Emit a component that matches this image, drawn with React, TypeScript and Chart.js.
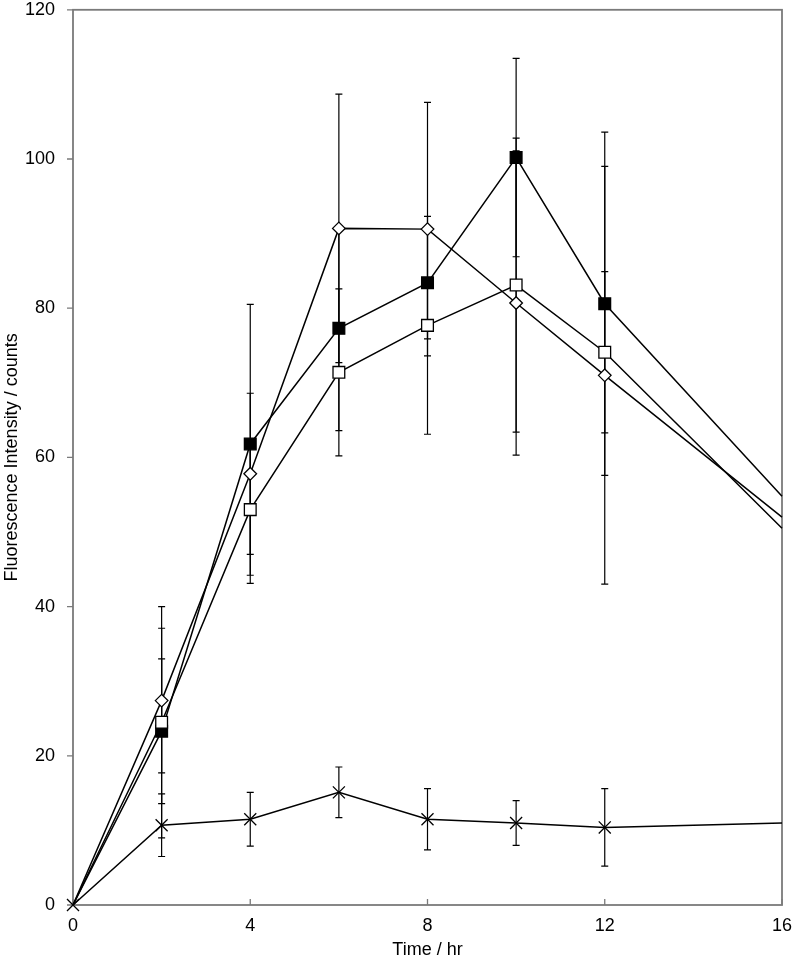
import React, { useEffect, useRef } from "react";
import { Chart, registerables } from "chart.js";

Chart.register(...registerables);

// Time points (hr)
const times = [0, 2, 4, 6, 8, 10, 12, 16];
const xTicks = [0, 4, 8, 12, 16];
const yTicks = [0, 20, 40, 60, 80, 100, 120];

// Series values (fluorescence counts) and error bars (±)
const diamondVals = [0, 27.4, 57.8, 90.7, 90.6, 80.7, 71.0, 52.0];
const diamondErr = [0, 9.7, 10.8, 18.0, 17.0, 20.4, 28.0, 0];

const openSquareVals = [0, 24.5, 53.0, 71.4, 77.7, 83.1, 74.1, 50.5];
const openSquareErr = [0, 15.5, 8.8, 11.2, 14.6, 19.7, 10.8, 0];

const filledSquareVals = [0, 23.3, 61.8, 77.3, 83.4, 100.2, 80.6, 54.8];
const filledSquareErr = [0, 9.7, 18.7, 13.7, 7.5, 13.3, 23.0, 0];

const crossVals = [0, 10.7, 11.5, 15.1, 11.5, 11.0, 10.4, 11.0];
const crossErr = [0, 4.2, 3.6, 3.4, 4.1, 3.0, 5.2, 0];

const FONT = "'Liberation Sans', Arial, Helvetica, sans-serif";
const AXIS_COLOR = "#7a7a7a";

const errorBarPlugin = {
  id: "errorBars",
  beforeDatasetsDraw(chart: any) {
    const { ctx, scales } = chart;
    const xs = scales.x;
    const ys = scales.y;
    ctx.save();
    ctx.strokeStyle = "#000";
    ctx.lineWidth = 1.2;
    chart.data.datasets.forEach((ds: any) => {
      const errs: number[] = ds.errors || [];
      ds.data.forEach((pt: any, i: number) => {
        const e = errs[i];
        if (!e) return;
        const x = xs.getPixelForValue(pt.x);
        const yTop = ys.getPixelForValue(pt.y + e);
        const yBot = ys.getPixelForValue(pt.y - e);
        ctx.beginPath();
        ctx.moveTo(x, yTop);
        ctx.lineTo(x, yBot);
        ctx.moveTo(x - 3.5, yTop);
        ctx.lineTo(x + 3.5, yTop);
        ctx.moveTo(x - 3.5, yBot);
        ctx.lineTo(x + 3.5, yBot);
        ctx.stroke();
      });
    });
    ctx.restore();
  },
};

const framePlugin = {
  id: "frame",
  beforeDatasetsDraw(chart: any) {
    const { ctx, chartArea, scales } = chart;
    const { left, right, top, bottom } = chartArea;
    ctx.save();
    ctx.strokeStyle = AXIS_COLOR;
    ctx.lineWidth = 1.8;
    ctx.strokeRect(left, top, right - left, bottom - top);
    ctx.lineWidth = 1.3;
    ctx.beginPath();
    xTicks.forEach((v) => {
      const x = scales.x.getPixelForValue(v);
      ctx.moveTo(x, bottom);
      ctx.lineTo(x, bottom - 6);
    });
    yTicks.forEach((v) => {
      const y = scales.y.getPixelForValue(v);
      ctx.moveTo(left, y);
      ctx.lineTo(left - 6, y);
    });
    ctx.stroke();
    ctx.restore();
  },
};

function mkPoints(vals: number[]) {
  return times.map((t, i) => ({ x: t, y: vals[i] }));
}

function radii(n: number, r: number, showFirst: boolean) {
  return times.map((_, i) => {
    if (i === n - 1) return 0;
    if (i === 0 && !showFirst) return 0;
    return r;
  });
}

export default function App() {
  const ref = useRef<HTMLCanvasElement | null>(null);

  useEffect(() => {
    if (!ref.current) return;
    const n = times.length;
    const common = {
      borderColor: "#000",
      borderWidth: 1.5,
      pointBorderColor: "#000",
      pointBorderWidth: 1.3,
      tension: 0,
      fill: false,
      clip: false as any,
    };
    const chart = new Chart(ref.current, {
      type: "line",
      data: {
        datasets: [
          {
            ...common,
            label: "diamond",
            data: mkPoints(diamondVals),
            errors: diamondErr,
            pointStyle: "rectRot",
            pointRadius: radii(n, 6.3, false),
            pointBackgroundColor: "#fff",
          } as any,
          {
            ...common,
            label: "open square",
            data: mkPoints(openSquareVals),
            errors: openSquareErr,
            pointStyle: "rect",
            pointRadius: radii(n, 8.3, false),
            pointBackgroundColor: "#fff",
          } as any,
          {
            ...common,
            label: "filled square",
            data: mkPoints(filledSquareVals),
            errors: filledSquareErr,
            pointStyle: "rect",
            pointRadius: radii(n, 8.3, false),
            pointBackgroundColor: "#000",
          } as any,
          {
            ...common,
            label: "cross",
            data: mkPoints(crossVals),
            errors: crossErr,
            pointStyle: "crossRot",
            pointRadius: radii(n, 8.5, true),
            pointBackgroundColor: "#000",
          } as any,
        ],
      },
      options: {
        responsive: false,
        animation: false,
        devicePixelRatio: 1,
        layout: { padding: { left: 0, right: 12, top: 9, bottom: 0 } },
        plugins: {
          legend: { display: false },
          tooltip: { enabled: false },
        },
        scales: {
          x: {
            type: "linear",
            min: 0,
            max: 16,
            afterFit: (s: any) => {
              s.height = 58;
              s.paddingLeft = 0;
              s.paddingRight = 0;
            },
            afterBuildTicks: (s: any) => {
              s.ticks = xTicks.map((v) => ({ value: v }));
            },
            grid: { display: false },
            border: { display: false },
            ticks: {
              padding: 2,
              color: "#000",
              font: { family: FONT, size: 18 },
              maxRotation: 0,
            },
            title: {
              display: true,
              text: "Time / hr",
              color: "#000",
              font: { family: FONT, size: 18 },
              padding: { top: 0, bottom: 2 },
            },
          },
          y: {
            type: "linear",
            min: 0,
            max: 120,
            afterFit: (s: any) => {
              s.width = 73;
              s.paddingTop = 0;
              s.paddingBottom = 0;
            },
            afterBuildTicks: (s: any) => {
              s.ticks = yTicks.map((v) => ({ value: v }));
            },
            grid: { display: false },
            border: { display: false },
            ticks: {
              padding: 10,
              color: "#000",
              font: { family: FONT, size: 18 },
            },
            title: {
              display: true,
              text: "Fluorescence Intensity / counts",
              color: "#000",
              font: { family: FONT, size: 18 },
              padding: { top: 1, bottom: 0 },
            },
          },
        },
      } as any,
      plugins: [framePlugin, errorBarPlugin],
    });
    return () => chart.destroy();
  }, []);

  return (
    <div
      style={{
        position: "fixed",
        left: 0,
        top: 0,
        width: 794,
        height: 963,
        background: "#fff",
      }}
    >
      <canvas
        ref={ref}
        width={794}
        height={963}
        style={{ width: 794, height: 963, display: "block" }}
      />
    </div>
  );
}
